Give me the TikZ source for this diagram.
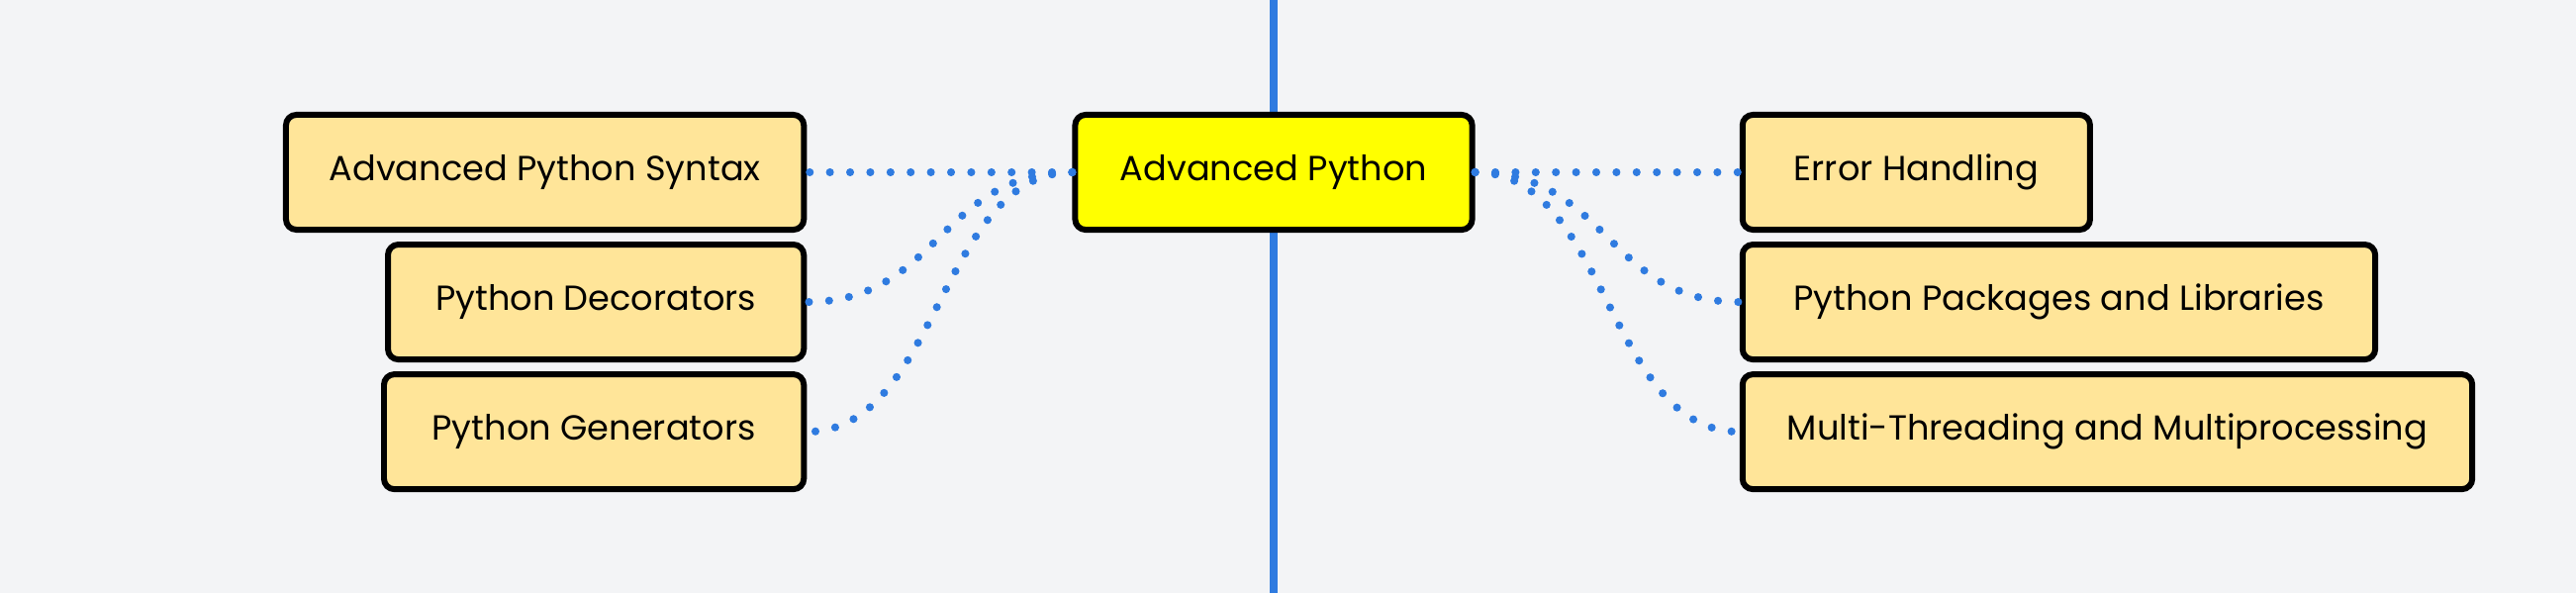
\documentclass[tikz,border=0pt]{standalone}
\usepackage{fontspec}
\setmainfont{Poppins}
\usetikzlibrary{positioning}
\definecolor{pagebg}{HTML}{F3F4F6}
\definecolor{topicfill}{HTML}{FFE599}
\definecolor{rootfill}{HTML}{FFFF00}
\definecolor{linkblue}{HTML}{2F7BE0}
\begin{document}
\begin{tikzpicture}[
  x=0.01cm, y=-0.01cm,
  topic/.style={rectangle, draw, line width=1.7pt, rounded corners=3pt, fill=topicfill,
                minimum height=1.16cm, align=center, font=\fontsize{10pt}{12pt}\selectfont},
  root/.style={topic, fill=rootfill, minimum width=4.01cm},
  link/.style={linkblue, line width=2.3pt, line cap=round, dash pattern=on 0pt off 5.8pt},
  node distance=2.68cm,
]
\useasboundingbox (0,0) rectangle (2603,599);
\fill[pagebg] (0,0) rectangle (2603,599);
\coordinate (axistop) at (1287,0);
\coordinate (axisbottom) at (1287,599);
\draw[linkblue, line width=2.3pt] (axistop) -- (axisbottom);

\node[root] (python) at (1287,174) {Advanced Python};
% left branch
\node[topic, minimum width=5.23cm, left=of python] (syntax) {Advanced Python Syntax};
\node[topic, minimum width=4.20cm, below=0.09cm of syntax.south east, anchor=north east] (decorators) {Python Decorators};
\node[topic, minimum width=4.24cm, below=0.09cm of decorators.south east, anchor=north east] (generators) {Python Generators};
% right branch
\node[topic, minimum width=3.51cm, right=2.67cm of python] (errors) {Error Handling};
\node[topic, minimum width=6.39cm, below=0.09cm of errors.south west, anchor=north west] (packages) {Python Packages and Libraries};
\node[topic, minimum width=7.37cm, below=0.09cm of packages.south west, anchor=north west] (threading) {Multi-Threading and Multiprocessing};

\draw[link] (python.west) -- (syntax.east);
\draw[link] (python.west) .. controls +(-134,0) and +(134,0) .. (decorators.east);
\draw[link] (python.west) .. controls +(-134,0) and +(134,0) .. (generators.east);
\draw[link] (python.east) -- (errors.west);
\draw[link] (python.east) .. controls +(134,0) and +(-134,0) .. (packages.west);
\draw[link] (python.east) .. controls +(134,0) and +(-134,0) .. (threading.west);
\end{tikzpicture}
\end{document}
